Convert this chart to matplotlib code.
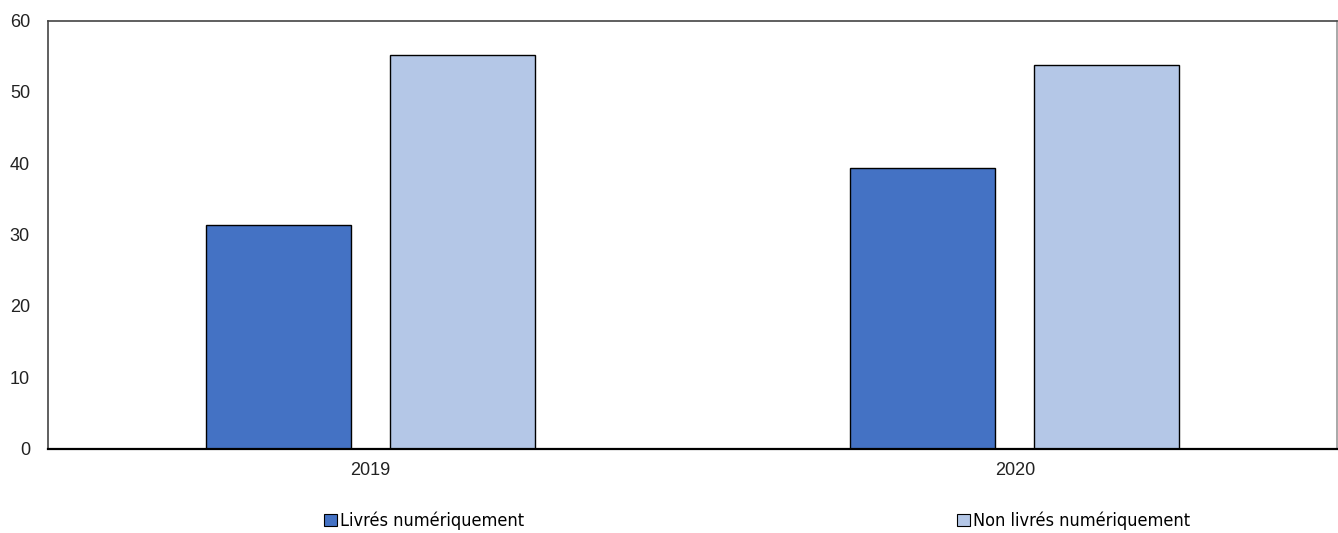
import matplotlib
matplotlib.use("Agg")
import matplotlib.pyplot as plt
import numpy as np
from matplotlib.patches import Patch

years = ["2019", "2020"]
series_names = ["Livrés numériquement", "Non livrés numériquement"]
digital = [31.3, 39.3]
non_digital = [55.1, 53.7]
y_ticks = [0, 10, 20, 30, 40, 50, 60]

dark_blue = "#4472C4"
light_blue = "#B4C7E7"

plt.rcParams["font.family"] = ["Liberation Sans", "DejaVu Sans"]

fig = plt.figure(figsize=(13.38, 5.33), dpi=100)
ax = fig.add_axes([48 / 1338, (533 - 448.5) / 533, 1289 / 1338, 428 / 533])

x = np.arange(len(years))
width = 0.225
offset = 0.1425
ax.bar(x - offset, digital, width, color=dark_blue, edgecolor="black", linewidth=1)
ax.bar(x + offset, non_digital, width, color=light_blue, edgecolor="black", linewidth=1)

ax.set_xlim(-0.5, 1.5)
ax.set_ylim(0, 60)
ax.set_yticks(y_ticks)
ax.set_xticks(x)
ax.set_xticklabels(years)
ax.tick_params(axis="both", length=0, labelsize=13, colors="#222222")
ax.tick_params(axis="y", pad=13)
ax.tick_params(axis="x", pad=10)

ax.spines["left"].set_color("#444444")
ax.spines["top"].set_color("#444444")
ax.spines["right"].set_color("#999999")
ax.spines["bottom"].set_color("black")
for s in ax.spines.values():
    s.set_linewidth(1.2)
ax.spines["bottom"].set_linewidth(1.6)

handles = [Patch(facecolor=dark_blue, edgecolor="black", linewidth=0.8),
           Patch(facecolor=light_blue, edgecolor="black", linewidth=0.8)]
fig.legend(handles, series_names, loc="center", bbox_to_anchor=(0.5658, 0.0225),
           ncol=2, frameon=False, handlelength=0.7, handleheight=0.7,
           handletextpad=0.15, columnspacing=24,
           prop={"family": "DejaVu Sans", "stretch": "condensed", "size": 13})

fig.savefig("out.png", dpi=100)
